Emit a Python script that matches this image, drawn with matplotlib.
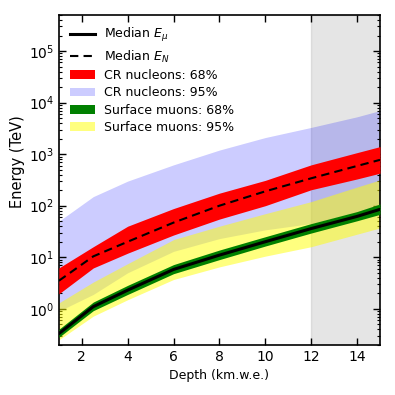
import numpy as np
import matplotlib
matplotlib.use("Agg")
import matplotlib.pyplot as plt

# depth grid (km.w.e.)
depth = [1, 2.5, 4, 6, 8, 10, 12, 14, 15]

# surface muons (TeV)
mu_median = [0.33, 1.1, 2.3, 5.8, 11, 20, 36, 62, 85]
mu_68_lo = [0.28, 0.92, 1.9, 4.8, 9.0, 16.5, 29.5, 51, 68]
mu_68_hi = [0.40, 1.35, 2.85, 7.2, 13.8, 25, 45, 77, 108]
mu_95_lo = [0.25, 0.72, 1.5, 3.7, 6.5, 10.5, 16, 28, 37]
mu_95_hi = [1.3, 3.3, 7.5, 22, 40, 70, 120, 230, 316]

# CR nucleons (TeV)
n_median = [3.5, 10.4, 20, 47, 100, 190, 340, 590, 775]
n_68_lo = [1.95, 6.2, 12, 27, 55, 100, 204, 330, 427]
n_68_hi = [6.2, 16, 40, 88, 175, 310, 620, 1070, 1400]
n_95_lo = [0.9, 1.9, 5, 13, 23, 34, 45, 75, 100]
n_95_hi = [50, 150, 300, 620, 1200, 2100, 3300, 5300, 7000]

plt.rcParams.update({
    "xtick.direction": "in", "ytick.direction": "in",
    "xtick.top": True, "ytick.right": True,
    "font.size": 9,
})

fig = plt.figure(figsize=(3.95, 3.95), dpi=100)
ax = fig.add_axes([0.149, 0.127, 0.813, 0.835])

ax.axvspan(12, 15, color="grey", alpha=0.2, zorder=0)

ax.plot(depth, mu_median, color="black", lw=2.2, label=r"Median $E_\mu$", zorder=5)
ax.plot(depth, n_median, color="black", lw=1.5, ls=(0, (4, 2.5)), label=r"Median $E_N$", zorder=5)
ax.fill_between(depth, n_68_lo, n_68_hi, color="red", lw=0, label="CR nucleons: 68%", zorder=3)
ax.fill_between(depth, n_95_lo, n_95_hi, color="blue", alpha=0.2, lw=0, label="CR nucleons: 95%", zorder=1)
ax.fill_between(depth, mu_68_lo, mu_68_hi, color="green", lw=0, label="Surface muons: 68%", zorder=4)
ax.fill_between(depth, mu_95_lo, mu_95_hi, color="yellow", alpha=0.5, lw=0, label="Surface muons: 95%", zorder=2)

ax.set_yscale("log")
ax.set_xlim(1, 15)
ax.set_ylim(0.2, 5e5)
ax.set_xticks([2, 4, 6, 8, 10, 12, 14])
ax.tick_params(which="major", length=5, width=1, labelsize=10)
ax.tick_params(which="minor", length=2.5, width=0.8)
for s in ax.spines.values():
    s.set_linewidth(1.2)

ax.set_xlabel("Depth (km.w.e.)", fontsize=9)
ax.set_ylabel("Energy (TeV)", fontsize=10.5)
ax.yaxis.set_label_coords(-0.105, 0.555)
ax.legend(loc="upper left", frameon=False, fontsize=9, handlelength=2.0,
          handletextpad=0.75, labelspacing=0.35, borderaxespad=0.5)

plt.savefig("out.png", dpi=100)
